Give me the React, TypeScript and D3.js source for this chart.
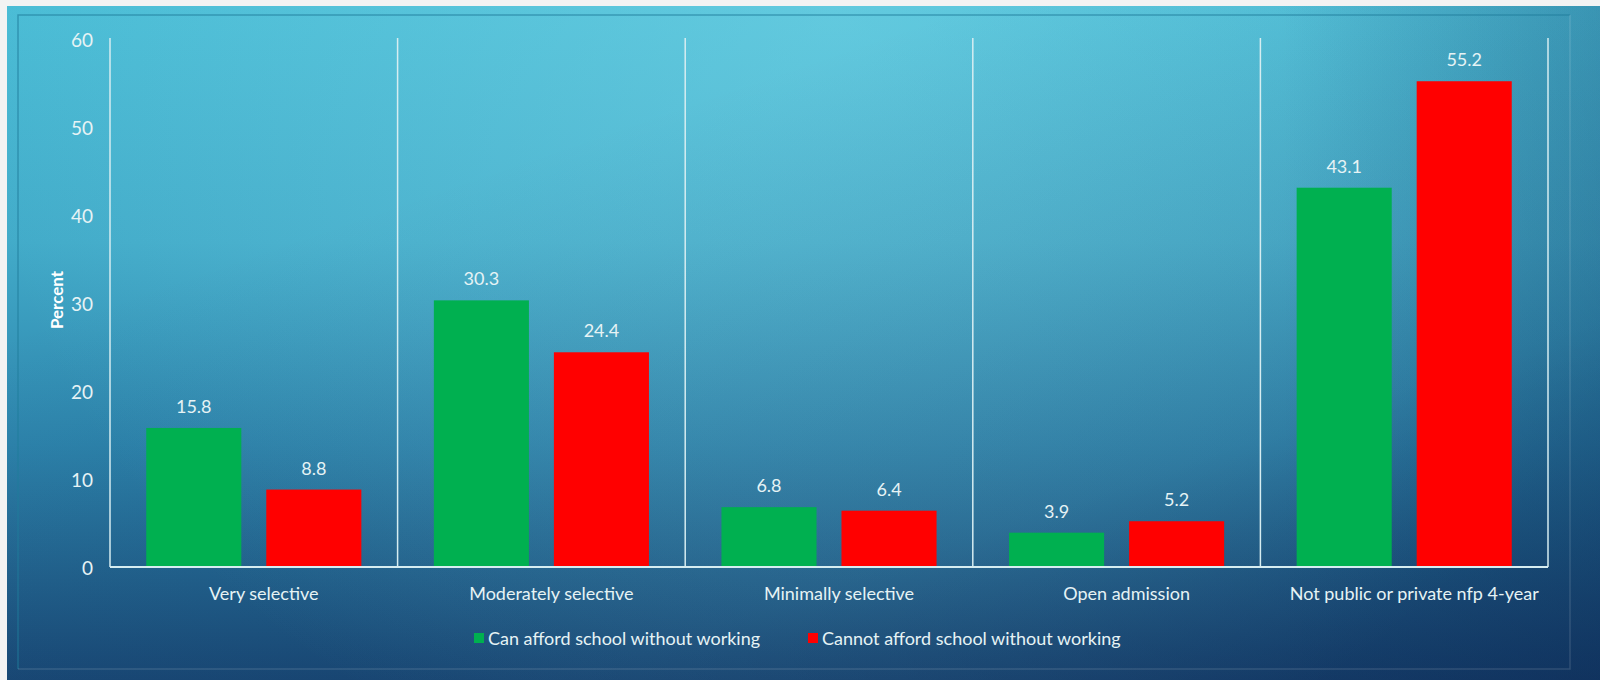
import React from "react";
import * as d3 from "d3";

const categories = [
  "Very selective",
  "Moderately selective",
  "Minimally selective",
  "Open admission",
  "Not public or private nfp 4-year",
];
const seriesNames = [
  "Can afford school without working",
  "Cannot afford school without working",
];
const canAfford = [15.8, 30.3, 6.8, 3.9, 43.1];
const cannotAfford = [8.8, 24.4, 6.4, 5.2, 55.2];
const yTicks = [0, 10, 20, 30, 40, 50, 60];
const seriesColors = ["#00B050", "#FF0000"];

const W = 1600;
const H = 680;
const plotLeft = 110;
const plotRight = 1548;
const plotTop = 39;
const plotBottom = 567;
const FONT = "Lato, 'Open Sans', sans-serif";
const TXT = "#e6f3f5";
const LINE = "#d6edf1";

export default function App() {
  const x = d3.scaleBand<string>().domain(categories).range([plotLeft, plotRight]).padding(0);
  const inner = d3
    .scaleBand<string>()
    .domain(seriesNames)
    .range([0, x.bandwidth()])
    .paddingInner(0.208)
    .paddingOuter(0.302);
  const y = d3.scaleLinear().domain([0, 60]).range([plotBottom, plotTop]);
  const seriesValues = [canAfford, cannotAfford];

  const boundaries = [...categories.map((c) => x(c) as number), plotRight];

  return (
    <svg
      width={W}
      height={H}
      style={{ position: "absolute", left: 0, top: 0, display: "block" }}
      fontFamily={FONT}
    >
      <defs>
        <linearGradient id="bgV" x1="0" y1="0" x2="0" y2="1">
          <stop offset="0" stopColor="#4abcd5" />
          <stop offset="0.35" stopColor="#42abc9" />
          <stop offset="0.65" stopColor="#2d84ac" />
          <stop offset="1" stopColor="#1a4b78" />
        </linearGradient>
        <radialGradient id="bgGlow" cx="0.52" cy="0.0" r="0.55" gradientTransform="translate(0.52,0) scale(1,2.2) translate(-0.52,0)">
          <stop offset="0" stopColor="#8fe3f0" stopOpacity="0.35" />
          <stop offset="1" stopColor="#8fe3f0" stopOpacity="0" />
        </radialGradient>
        <linearGradient id="bgDark" x1="0.35" y1="0.2" x2="1" y2="1">
          <stop offset="0" stopColor="#0a1f4a" stopOpacity="0" />
          <stop offset="0.6" stopColor="#0a1f4a" stopOpacity="0.15" />
          <stop offset="1" stopColor="#0a1f4a" stopOpacity="0.5" />
        </linearGradient>
        <linearGradient id="bgRight" x1="0" y1="0" x2="1" y2="0">
          <stop offset="0.8" stopColor="#0c3a66" stopOpacity="0" />
          <stop offset="1" stopColor="#0c3a66" stopOpacity="0.25" />
        </linearGradient>
      </defs>

      <rect x={0} y={0} width={W} height={H} fill="#f3f3f3" />
      <rect x={7} y={6} width={W - 7} height={H - 6} fill="url(#bgV)" />
      <rect x={7} y={6} width={W - 7} height={H - 6} fill="url(#bgGlow)" />
      <rect x={7} y={6} width={W - 7} height={H - 6} fill="url(#bgRight)" />
      <rect x={7} y={6} width={W - 7} height={H - 6} fill="url(#bgDark)" />

      {/* inner frame */}
      <path d={`M18,669 L18,15 L1570,15`} fill="none" stroke="#1f7d9c" strokeOpacity={0.6} strokeWidth={1.5} />
      <path d={`M18,669 L1570,669 L1570,15`} fill="none" stroke="#ffffff" strokeOpacity={0.13} strokeWidth={1.5} />

      {/* y tick labels */}
      {yTicks.map((t) => (
        <text
          key={t}
          x={93}
          y={y(t)}
          textAnchor="end"
          dominantBaseline="central"
          fill={TXT}
          fontSize={19}
        >
          {t}
        </text>
      ))}

      {/* axis title */}
      <text
        transform={`translate(56,300) rotate(-90)`}
        textAnchor="middle"
        dominantBaseline="central"
        fill="#ffffff"
        fontSize={17}
        fontWeight="bold"
      >
        Percent
      </text>

      {/* bars */}
      {seriesNames.map((s, si) =>
        categories.map((c, ci) => {
          const v = seriesValues[si][ci];
          const bx = (x(c) as number) + (inner(s) as number);
          return (
            <rect
              key={s + c}
              x={bx}
              y={y(v)}
              width={inner.bandwidth()}
              height={y(0) - y(v)}
              fill={seriesColors[si]}
            />
          );
        })
      )}

      {/* category separators and axes */}
      {boundaries.map((bx, i) => (
        <line key={i} x1={bx} x2={bx} y1={y(60) - 1} y2={y(0)} stroke={LINE} strokeWidth={1.5} />
      ))}
      <line x1={plotLeft} x2={plotRight} y1={y(0)} y2={y(0)} stroke={LINE} strokeWidth={2} />

      {/* data labels */}
      {seriesNames.map((s, si) =>
        categories.map((c, ci) => {
          const v = seriesValues[si][ci];
          const cx = (x(c) as number) + (inner(s) as number) + inner.bandwidth() / 2;
          return (
            <text
              key={"l" + s + c}
              x={cx}
              y={y(v) - 22}
              textAnchor="middle"
              dominantBaseline="central"
              fill={TXT}
              fontSize={18}
            >
              {v.toFixed(1)}
            </text>
          );
        })
      )}

      {/* category labels */}
      {categories.map((c) => (
        <text
          key={"c" + c}
          x={(x(c) as number) + x.bandwidth() / 2 + 10}
          y={593}
          textAnchor="middle"
          dominantBaseline="central"
          fill={TXT}
          fontSize={18}
        >
          {c}
        </text>
      ))}

      {/* legend */}
      {seriesNames.map((s, si) => {
        const lx = si === 0 ? 474 : 808;
        return (
          <g key={"lg" + s} transform={`translate(${lx},638)`}>
            <rect x={0} y={-5} width={10} height={10} fill={seriesColors[si]} />
            <text x={14} y={0} dominantBaseline="central" fill={TXT} fontSize={18}>
              {s}
            </text>
          </g>
        );
      })}
    </svg>
  );
}
